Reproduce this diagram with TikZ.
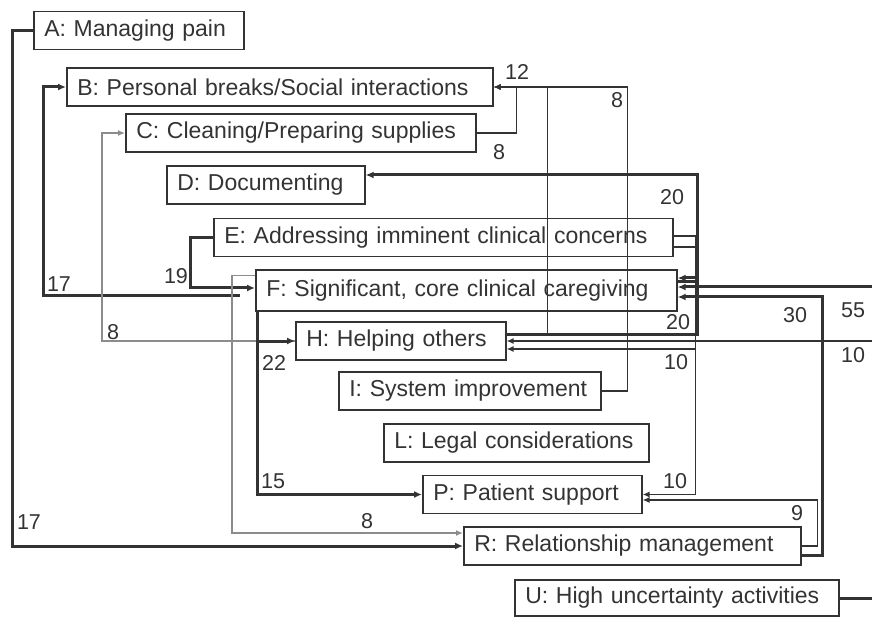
\documentclass[tikz,border=0pt]{standalone}
\usepackage{fontspec}
\setmainfont{Liberation Sans}
\usetikzlibrary{arrows.meta}
\definecolor{ink}{HTML}{333333}
\definecolor{lgray}{HTML}{8C8C8C}
\begin{document}
\begin{tikzpicture}[x=1pt,y=-1pt,
  nbox/.style={draw=ink, line width=1.6pt, anchor=west, inner xsep=10.5pt, inner ysep=0pt,
    minimum height=38pt, align=left, font=\fontsize{23}{26}\selectfont, text=ink},
  lbl/.style={font=\fontsize{21.5}{24}\selectfont, text=ink, inner sep=0pt},
  thk/.style={draw=ink, line width=3pt, -{Latex[length=8pt,width=7pt]}},
  thn/.style={draw=ink, line width=1.3pt, -{Latex[length=7pt,width=6pt]}},
  gry/.style={draw=lgray, line width=1.3pt, -{Latex[length=7pt,width=6pt]}},
]
\useasboundingbox (0,0) rectangle (872,617);

\node[nbox, text width=189pt] (A) at (33,30.5) {A: Managing pain};
\node[nbox, text width=405pt] (B) at (66,87) {B: Personal breaks/Social interactions};
\node[nbox, text width=329pt] (C) at (125,133) {C: Cleaning/Preparing supplies};
\node[nbox, text width=177pt] (D) at (166,185) {D: Documenting};
\node[nbox, text width=438pt] (E) at (213,237.5) {E: Addressing imminent clinical concerns};
\node[nbox, text width=400pt, minimum height=41pt] (F) at (255,290.5) {F: Significant, core clinical caregiving};
\node[nbox, text width=189pt] (H) at (295,341) {H: Helping others};
\node[nbox, text width=241pt] (I) at (338,391) {I: System improvement};
\node[nbox, text width=244pt] (L) at (383,443) {L: Legal considerations};
\node[nbox, text width=198pt] (P) at (422,494.5) {P: Patient support};
\node[nbox, text width=316pt] (R) at (463,546) {R: Relationship management};
\node[nbox, text width=303pt, minimum height=36pt] (U) at (514,598) {U: High uncertainty activities};

% left side
\draw[thk] (A.west) -- ++(-21,0) |- (R.west);
\draw[thk] ([xshift=-15pt,yshift=-5.5pt]F.west) -- ++(-197,0) |- (B.west);
\draw[thk] (E.west) -- ++(-23,0) |- ([yshift=2.5pt]F.west);
\draw[gry] (H.west) -- ++(-193,0) |- (C.west);
\draw[thk] ([xshift=2pt]F.south west) |- (H.west);
\draw[thk] ([xshift=2pt]F.south west) |- (P.west);
\draw[gry] ([yshift=15pt]F.west) -- ++(-23,0) |- ([yshift=13pt]R.west);

% to B
\draw[thn] (C.east) -- ++(40,0) |- (B.east);
\draw[thn] ([yshift=7pt]H.east) -- ++(41,0) |- (B.east);
\draw[thn] (I.east) -- ++(26,0) |- (B.east);

% right column
\draw[thk] ([yshift=9pt]F.east) -- ++(20,0) |- ([yshift=10pt]D.east);
\draw[thk] ([yshift=7pt]H.east) -- ++(191,0) |- ([yshift=12.5pt]F.east);
\draw[thn] ([yshift=1.5pt]E.east) -- ++(22,0) |- (P.east);
\draw[thn] ([yshift=-9.5pt]E.east) -- ++(22,0) |- ([yshift=-8pt]H.east);
\draw[thk] ([yshift=-9pt]R.east) -- ++(21,0) |- ([yshift=-6.5pt]F.east);
\draw[thn] (R.east) -- ++(16,0) |- ([yshift=-5.5pt]P.east);
\draw[thk] (U.east) -- ++(36,0) |- ([yshift=3.5pt]F.east);
\draw[thn] (U.east) -- ++(36,0) |- (H.east);

% labels
\node[lbl] (n1) at (29,522) {17};
\node[lbl] (n2) at (59,284) {17};
\node[lbl] (n3) at (176,276) {19};
\node[lbl] (n4) at (113,332) {8};
\node[lbl] (n5) at (274,363) {22};
\node[lbl] (n6) at (273,481) {15};
\node[lbl] (n7) at (367,521) {8};
\node[lbl] (n8) at (517,72) {12};
\node[lbl] (n9) at (499,152) {8};
\node[lbl] (n10) at (617,100) {8};
\node[lbl] (n11) at (672,197) {20};
\node[lbl] (n12) at (678,322) {20};
\node[lbl] (n13) at (676,362) {10};
\node[lbl] (n14) at (675,481) {10};
\node[lbl] (n15) at (853,310) {55};
\node[lbl] (n16) at (853,355) {10};
\node[lbl] (n17) at (795,315) {30};
\node[lbl] (n18) at (797,513) {9};
\end{tikzpicture}
\end{document}
